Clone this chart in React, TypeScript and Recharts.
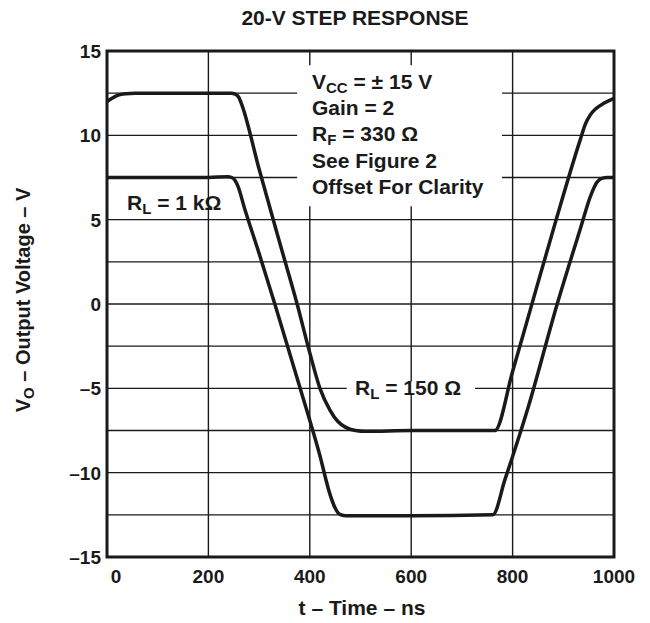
import { LineChart, Line, XAxis, YAxis, CartesianGrid, ReferenceArea } from 'recharts';

// R_L = 1 kΩ trace (starts at 7.5 V)
const TIME_1K = [0, 100, 200, 238, 246, 252, 258, 272, 300, 331, 381, 420, 440, 450, 458, 470, 600, 761, 785, 830, 888, 933, 955, 966, 976, 987, 1000];
const VOLT_1K = [7.5, 7.5, 7.5, 7.55, 7.5, 7.35, 7.0, 5.6, 3.0, 0, -5.0, -9.0, -11.3, -12.1, -12.45, -12.55, -12.55, -12.5, -10.4, -6.2, 0, 4.4, 6.5, 7.2, 7.45, 7.5, 7.5];

// R_L = 150 Ω trace (starts near 12 V)
const TIME_150 = [0, 10, 22, 38, 55, 150, 245, 253, 260, 266, 300, 340, 375, 400, 420, 440, 455, 470, 490, 510, 600, 765, 800, 840, 884, 933, 944, 953, 965, 980, 1000];
const VOLT_150 = [12.0, 12.2, 12.38, 12.47, 12.5, 12.5, 12.5, 12.45, 12.25, 11.8, 8.0, 3.7, 0, -2.9, -5.0, -6.3, -6.95, -7.3, -7.5, -7.55, -7.5, -7.5, -4.0, 0.2, 4.8, 9.7, 10.7, 11.2, 11.6, 11.9, 12.2];

const X_TICKS = [0, 200, 400, 600, 800, 1000];
const Y_TICKS = [-15, -10, -5, 0, 5, 10, 15];
const X_GRID = [200, 400, 600, 800];
const Y_GRID = [-12.5, -10, -7.5, -5, -2.5, 0, 2.5, 5, 7.5, 10, 12.5];

const data1k = TIME_1K.map((t, i) => ({ t, v: VOLT_1K[i] }));
const data150 = TIME_150.map((t, i) => ({ t, v: VOLT_150[i] }));

const FONT = '"Liberation Sans", Arial, Helvetica, sans-serif';
const INK = '#1a1a1a';

function fmt(v: number) {
  return v < 0 ? `\u2013${Math.abs(v)}` : `${v}`;
}

function XTick(props: any) {
  const { x, payload } = props;
  const dx = payload.value === 0 ? 9 : 0;
  return (
    <text x={x + dx} y={583} textAnchor="middle" fontFamily={FONT} fontWeight="bold" fontSize={19} fill={INK}>
      {payload.value}
    </text>
  );
}

function YTick(props: any) {
  const { y, payload } = props;
  return (
    <text x={101} y={y + 7} textAnchor="end" fontFamily={FONT} fontWeight="bold" fontSize={19} fill={INK}>
      {fmt(payload.value)}
    </text>
  );
}

export default function App() {
  const txt = { fontFamily: FONT, fontWeight: 'bold' as const, fontSize: 21, fill: INK };
  return (
    <div style={{ position: 'absolute', left: 0, top: 0, width: 650, height: 623, background: '#fff' }}>
      <LineChart width={650} height={623} margin={{ top: 51, right: 36, bottom: 16, left: 0 }}>
        <CartesianGrid x={107} width={507} y={51} height={506}
          horizontalValues={Y_GRID} verticalValues={X_GRID} stroke={INK} strokeWidth={1.4} strokeOpacity={1} />
        <XAxis dataKey="t" type="number" domain={[0, 1000]} ticks={X_TICKS} allowDataOverflow
          axisLine={false} tickLine={false} height={50} tick={<XTick />} />
        <YAxis type="number" domain={[-15, 15]} ticks={Y_TICKS} allowDataOverflow
          axisLine={false} tickLine={false} width={107} tick={<YTick />} />
        {/* white areas behind the notes */}
        <ReferenceArea x1={375} x2={779} y1={5.8} y2={14.15} fill="#fff" fillOpacity={1} stroke="none" />
        <ReferenceArea x1={473} x2={726} y1={-5.4} y2={-4.6} fill="#fff" fillOpacity={1} stroke="none" />
        <ReferenceArea x1={0} x2={1000} y1={-15} y2={15} fill="none" stroke={INK} strokeWidth={3} />
        <Line data={data1k} dataKey="v" type="monotone" stroke={INK} strokeWidth={3.5} dot={false} isAnimationActive={false} />
        <Line data={data150} dataKey="v" type="monotone" stroke={INK} strokeWidth={3.5} dot={false} isAnimationActive={false} />
      </LineChart>
      <svg width={650} height={623} style={{ position: 'absolute', left: 0, top: 0, pointerEvents: 'none' }}>
        <text x={355} y={25} textAnchor="middle" {...txt}>20-V STEP RESPONSE</text>
        <text x={312} y={89} {...txt}>
          V<tspan fontSize={15} dy={4}>CC</tspan><tspan dy={-4}> = ± 15 V</tspan>
        </text>
        <text x={312} y={115} {...txt}>Gain = 2</text>
        <text x={312} y={141} {...txt}>
          R<tspan fontSize={15} dy={4}>F</tspan><tspan dy={-4}> = 330 Ω</tspan>
        </text>
        <text x={312} y={168} {...txt}>See Figure 2</text>
        <text x={312} y={194} {...txt}>Offset For Clarity</text>
        <text x={127} y={210} {...txt}>
          R<tspan fontSize={15} dy={4}>L</tspan><tspan dy={-4}> = 1 kΩ</tspan>
        </text>
        <text x={355} y={395} {...txt}>
          R<tspan fontSize={15} dy={4}>L</tspan><tspan dy={-4}> = 150 Ω</tspan>
        </text>
        <text x={362} y={615} textAnchor="middle" {...txt}>t – Time – ns</text>
        <text x={30} y={300} textAnchor="middle" transform="rotate(-90 30 300)" {...txt} fontSize={20}>
          V<tspan fontSize={15} dy={4}>O</tspan><tspan dy={-4}> – Output Voltage – V</tspan>
        </text>
      </svg>
    </div>
  );
}
